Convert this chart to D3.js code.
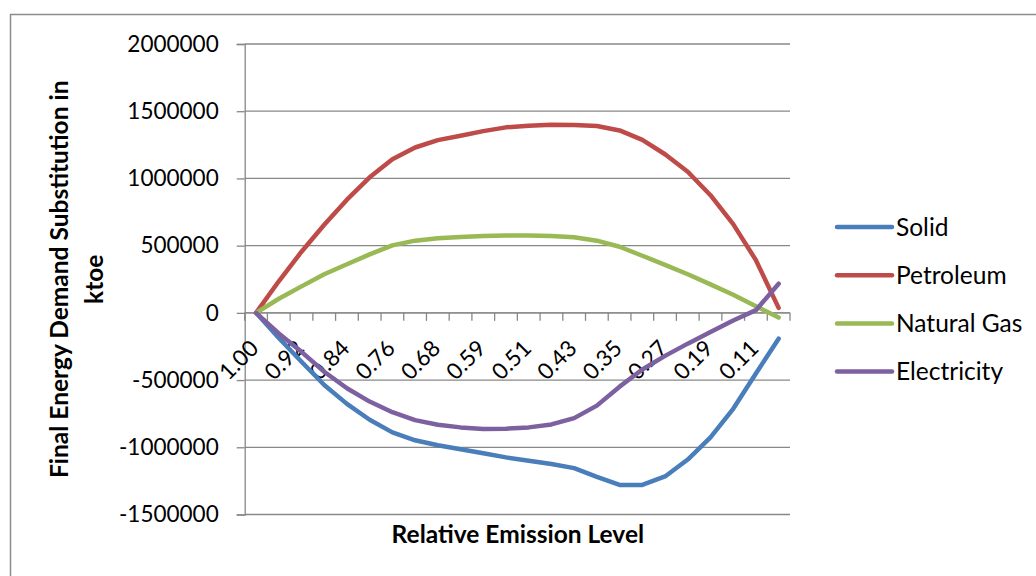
<!DOCTYPE html>
<html>
<head>
<meta charset="utf-8">
<script src="https://cdn.jsdelivr.net/npm/d3@7"></script>
<style>
  html, body { margin: 0; padding: 0; background: #fff; }
  svg { display: block; }
  text { font-family: Lato, "Open Sans", sans-serif; fill: #000; }
</style>
</head>
<body>
<svg id="chart" width="1036" height="576"></svg>
<script>
// Relative emission levels (category axis)
const categories = ["1.00","0.96","0.92","0.88","0.84","0.80","0.76","0.72","0.68","0.64","0.59","0.55",
                    "0.51","0.47","0.43","0.39","0.35","0.31","0.27","0.23","0.19","0.15","0.11","0.07"];

// Final energy demand substitution (ktoe) per fuel
const solid = [0, -187000, -364000, -537000, -677000, -795000, -889000, -948000, -985000, -1015000, -1045000, -1075000,
               -1100000, -1125000, -1155000, -1220000, -1280000, -1280000, -1217000, -1091000, -926000, -714000, -451000, -192000];
const petroleum = [0, 235000, 455000, 655000, 842000, 1008000, 1142000, 1230000, 1285000, 1318000, 1352000, 1380000,
                   1392000, 1400000, 1398000, 1390000, 1357000, 1287000, 1180000, 1050000, 875000, 660000, 392000, 37000];
const naturalGas = [0, 105000, 197000, 287000, 362000, 435000, 502000, 537000, 555000, 565000, 572000, 575000,
                    575000, 572000, 562000, 537000, 492000, 425000, 357000, 287000, 212000, 135000, 50000, -35000];
const electricity = [0, -153000, -290000, -438000, -561000, -660000, -739000, -798000, -832000, -852000, -864000, -862000,
                     -852000, -830000, -783000, -690000, -549000, -421000, -320000, -229000, -143000, -57000, 20000, 217000];

const seriesNames = ["Solid", "Petroleum", "Natural Gas", "Electricity"];
const seriesColors = ["#4A7EBB", "#BE4B48", "#98B954", "#7D60A0"];
const yTicks = [-1500000, -1000000, -500000, 0, 500000, 1000000, 1500000, 2000000];

const series = [solid, petroleum, naturalGas, electricity].map((vals, i) => ({
  name: seriesNames[i], color: seriesColors[i], values: vals
}));

const svg = d3.select("#chart");
const gridColor = "#888888";
const numberSize = 22.5;
const labelSize = 24.5;

// Outer chart border
svg.append("rect")
  .attr("x", 10.5).attr("y", 14.5)
  .attr("width", 1060).attr("height", 600)
  .attr("fill", "none").attr("stroke", "#8c8c8c").attr("stroke-width", 1.5);

const plot = { left: 244.7, right: 790, top: 44, bottom: 514.5 };

const x = d3.scaleBand().domain(categories).range([plot.left, plot.right]).padding(0);
const y = d3.scaleLinear().domain([-1500000, 2000000]).range([plot.bottom, plot.top]);
const cx = c => x(c) + x.bandwidth() / 2;

// Horizontal gridlines
svg.append("g")
  .selectAll("line").data(yTicks).join("line")
  .attr("x1", plot.left).attr("x2", plot.right)
  .attr("y1", d => y(d)).attr("y2", d => y(d))
  .attr("stroke", gridColor).attr("stroke-width", 1.3);

// Y axis (plain hyphen for negatives)
const yAxis = svg.append("g")
  .attr("transform", `translate(${plot.left},0)`)
  .call(d3.axisLeft(y).tickValues(yTicks).tickSize(8).tickPadding(18).tickFormat(d => String(d)));
yAxis.select(".domain").attr("stroke", gridColor).attr("stroke-width", 1.3);
yAxis.selectAll(".tick line").attr("stroke", gridColor).attr("stroke-width", 1.3);
yAxis.selectAll(".tick text")
  .style("font-family", "Lato, 'Open Sans', sans-serif")
  .style("font-size", numberSize + "px")
  .attr("fill", "#000");

// X axis along zero, ticks between categories
const xAxisG = svg.append("g").attr("transform", `translate(0,${y(0)})`);
xAxisG.append("line")
  .attr("x1", plot.left).attr("x2", plot.right)
  .attr("stroke", gridColor).attr("stroke-width", 1.3);
const boundaries = categories.map(c => x(c)).concat([plot.right]);
xAxisG.selectAll("line.tk").data(boundaries).join("line")
  .attr("class", "tk")
  .attr("x1", d => d).attr("x2", d => d)
  .attr("y1", 0).attr("y2", 8)
  .attr("stroke", gridColor).attr("stroke-width", 1.3);

// Rotated category labels (every other category)
svg.append("g").selectAll("text")
  .data(categories.filter((c, i) => i % 2 === 0))
  .join("text")
  .attr("transform", d => `translate(${cx(d) + 4},${y(0) + 37}) rotate(-45)`)
  .attr("text-anchor", "end")
  .style("font-size", numberSize + "px")
  .text(d => d);

// Series lines
const line = d3.line()
  .x((d, i) => cx(categories[i]))
  .y(d => y(d));

svg.append("g").selectAll("path")
  .data(series).join("path")
  .attr("d", s => line(s.values))
  .attr("fill", "none")
  .attr("stroke", s => s.color)
  .attr("stroke-width", 4.5)
  .attr("stroke-linejoin", "round")
  .attr("stroke-linecap", "round");

// Axis titles
svg.append("text")
  .attr("x", (plot.left + plot.right) / 2 + 0.5)
  .attr("y", 543)
  .attr("text-anchor", "middle")
  .style("font-size", labelSize + "px")
  .style("font-weight", "bold")
  .text("Relative Emission Level");

const yTitle = svg.append("text")
  .attr("transform", `translate(68,${(plot.top + plot.bottom) / 2}) rotate(-90)`)
  .attr("text-anchor", "middle")
  .style("font-size", labelSize + "px")
  .style("font-weight", "bold");
yTitle.append("tspan").attr("x", 0).attr("dy", 0).text("Final Energy Demand Substitution in");
yTitle.append("tspan").attr("x", 0).attr("dy", 35).text("ktoe");

// Legend
const legend = svg.append("g").selectAll("g")
  .data(series).join("g")
  .attr("transform", (s, i) => `translate(837,${227 + i * 48.2})`);
legend.append("line")
  .attr("x1", 0).attr("x2", 55)
  .attr("stroke", s => s.color)
  .attr("stroke-width", 4.5)
  .attr("stroke-linecap", "round");
legend.append("text")
  .attr("x", 59).attr("y", 0)
  .attr("dy", "0.35em")
  .style("font-size", labelSize + "px")
  .text(s => s.name);
</script>
</body>
</html>
